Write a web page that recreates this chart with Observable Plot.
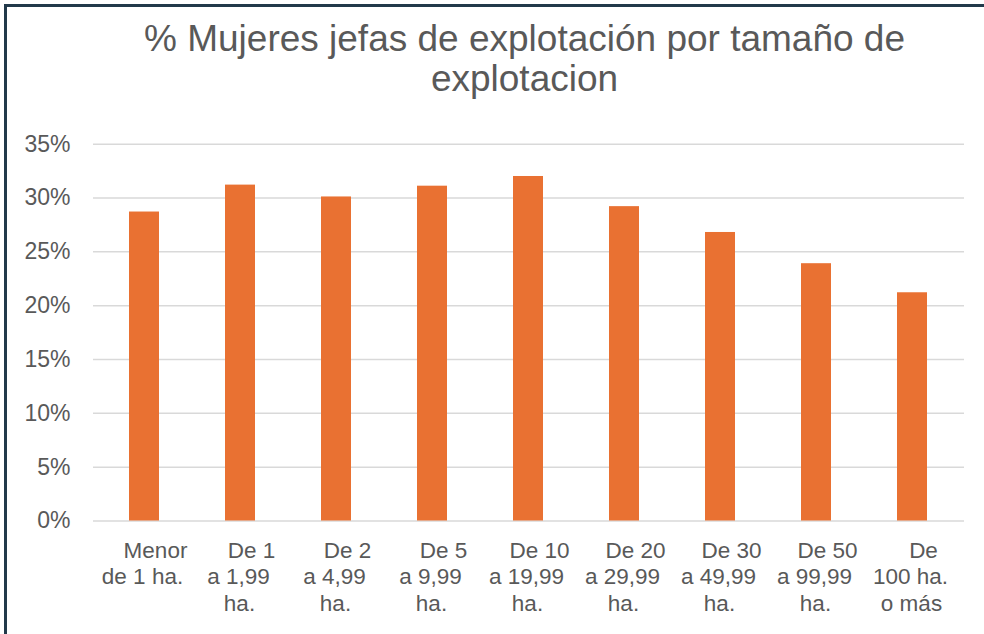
<!DOCTYPE html>
<html>
<head>
<meta charset="utf-8">
<script src="https://cdn.jsdelivr.net/npm/d3@7"></script>
<script src="https://cdn.jsdelivr.net/npm/@observablehq/plot@0.6"></script>
<style>
  html, body { margin: 0; padding: 0; background: #fff; }
  #page { position: relative; width: 984px; height: 634px; overflow: hidden; font-family: "Liberation Sans", Arial, sans-serif; }
  #frame { position: absolute; left: 4px; top: 4px; width: 990px; height: 640px; border-top: 3px solid #22394A; border-left: 3px solid #22394A; box-sizing: border-box; }
  #title { position: absolute; left: 65px; top: 19px; width: 919px; text-align: center; font-size: 37px; line-height: 40px; color: #595959; }
  #chart { position: absolute; left: 0; top: 120px; }
</style>
</head>
<body>
<div id="page">
  <div id="frame"></div>
  <div id="title">% Mujeres jefas de explotación por tamaño de<br>explotacion</div>
  <div id="chart"></div>
</div>
<script>
const categories = [
  "Menor de 1 ha.", "De 1 a 1,99 ha.", "De 2 a 4,99 ha.", "De 5 a 9,99 ha.",
  "De 10 a 19,99 ha.", "De 20 a 29,99 ha.", "De 30 a 49,99 ha.", "De 50 a 99,99 ha.", "De 100 ha. o más"
];
const labelLines = [
  ["Menor", "de 1 ha."],
  ["De 1", "a 1,99", "ha."],
  ["De 2", "a 4,99", "ha."],
  ["De 5", "a 9,99", "ha."],
  ["De 10", "a 19,99", "ha."],
  ["De 20", "a 29,99", "ha."],
  ["De 30", "a 49,99", "ha."],
  ["De 50", "a 99,99", "ha."],
  ["De", "100 ha.", "o más"]
];
const shares = [0.287, 0.312, 0.301, 0.311, 0.320, 0.292, 0.268, 0.239, 0.212];
const yTicks = [0, 0.05, 0.10, 0.15, 0.20, 0.25, 0.30, 0.35];

const data = categories.map((c, i) => ({cat: c, v: shares[i], lines: labelLines[i]}));

const lineDy = [30, 56, 83];
const lineDx = [11, -2, -1];
const labelMarks = [0, 1, 2].map(i =>
  Plot.text(data.filter(d => d.lines[i] !== undefined), {
    x: "cat", y: () => 0, text: d => d.lines[i],
    dy: lineDy[i], dx: lineDx[i], fontSize: 22.5, fill: "#595959"
  })
);

const chart = Plot.plot({
  width: 984,
  height: 514,
  marginLeft: 93,
  marginRight: 20,
  marginTop: 23.7,
  marginBottom: 113.5,
  style: { fontFamily: "'Liberation Sans', Arial, sans-serif", color: "#595959", background: "transparent", overflow: "visible" },
  x: { domain: categories, paddingInner: 0.685, paddingOuter: 0.3425, axis: null },
  y: { domain: [0, 0.35], axis: null },
  marks: [
    Plot.gridY(yTicks, { stroke: "#d9d9d9", strokeOpacity: 1, strokeWidth: 1.5 }),
    Plot.barY(data, { x: "cat", y: "v", fill: "#E97132" }),
    Plot.axisY(yTicks, { label: null, tickSize: 0, tickPadding: 23, fontSize: 23, tickFormat: d => Math.round(d * 100) + "%" }),
    ...labelMarks
  ]
});
document.getElementById("chart").appendChild(chart);
</script>
</body>
</html>
